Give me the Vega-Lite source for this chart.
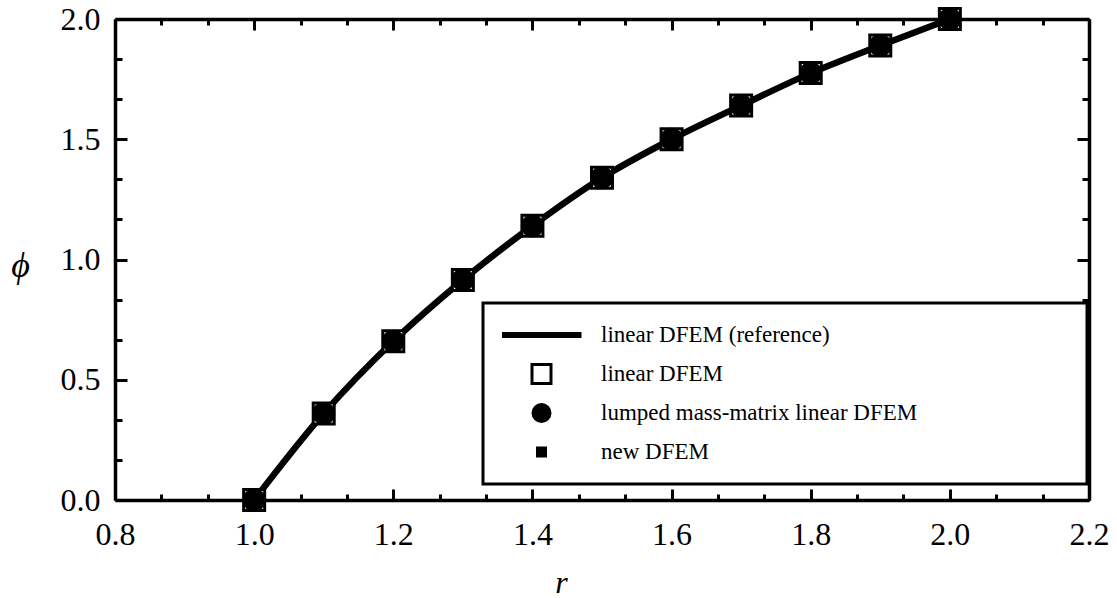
{
  "$schema": "https://vega.github.io/schema/vega-lite/v6.json",
  "width": 974,
  "height": 481,
  "autosize": {"type": "none"},
  "padding": {"left": 115, "top": 19, "right": 28, "bottom": 98},
  "background": "white",
  "config": {
    "view": {"stroke": null},
    "font": "Liberation Serif",
    "axis": {
      "grid": false,
      "domainColor": "black",
      "domainWidth": 3.5,
      "tickColor": "black",
      "tickWidth": 3,
      "labelFont": "Liberation Serif",
      "labelFontSize": 32,
      "labelColor": "black",
      "labelOverlap": false,
      "labelFlush": false,
      "titleFont": "Liberation Serif",
      "titleFontSize": 32,
      "titleFontStyle": "italic",
      "titleFontWeight": "normal",
      "titleColor": "black"
    },
    "legend": {
      "orient": "none",
      "legendX": 368,
      "legendY": 284,
      "strokeColor": "black",
      "strokeWidth": 3,
      "fillColor": "white",
      "padding": 19,
      "rowPadding": 13,
      "clipHeight": 26,
      "labelFont": "Liberation Serif",
      "labelFontSize": 23,
      "labelColor": "black",
      "labelOffset": 48,
      "symbolOffset": 28,
      "labelLimit": 600,
      "titleOrient": "right",
      "titlePadding": 151,
      "symbolStrokeColor": "black"
    }
  },
  "data": {
    "values": [
      {"r": 1.0, "phi": 0.0, "series": "linear DFEM (reference)"},
      {"r": 1.1, "phi": 0.36, "series": "linear DFEM (reference)"},
      {"r": 1.2, "phi": 0.66, "series": "linear DFEM (reference)"},
      {"r": 1.3, "phi": 0.915, "series": "linear DFEM (reference)"},
      {"r": 1.4, "phi": 1.14, "series": "linear DFEM (reference)"},
      {"r": 1.5, "phi": 1.34, "series": "linear DFEM (reference)"},
      {"r": 1.6, "phi": 1.5, "series": "linear DFEM (reference)"},
      {"r": 1.7, "phi": 1.64, "series": "linear DFEM (reference)"},
      {"r": 1.8, "phi": 1.775, "series": "linear DFEM (reference)"},
      {"r": 1.9, "phi": 1.89, "series": "linear DFEM (reference)"},
      {"r": 2.0, "phi": 2.0, "series": "linear DFEM (reference)"},
      {"r": 1.0, "phi": 0.0, "series": "linear DFEM"},
      {"r": 1.1, "phi": 0.36, "series": "linear DFEM"},
      {"r": 1.2, "phi": 0.66, "series": "linear DFEM"},
      {"r": 1.3, "phi": 0.915, "series": "linear DFEM"},
      {"r": 1.4, "phi": 1.14, "series": "linear DFEM"},
      {"r": 1.5, "phi": 1.34, "series": "linear DFEM"},
      {"r": 1.6, "phi": 1.5, "series": "linear DFEM"},
      {"r": 1.7, "phi": 1.64, "series": "linear DFEM"},
      {"r": 1.8, "phi": 1.775, "series": "linear DFEM"},
      {"r": 1.9, "phi": 1.89, "series": "linear DFEM"},
      {"r": 2.0, "phi": 2.0, "series": "linear DFEM"},
      {"r": 1.0, "phi": 0.0, "series": "lumped mass-matrix linear DFEM"},
      {"r": 1.1, "phi": 0.36, "series": "lumped mass-matrix linear DFEM"},
      {"r": 1.2, "phi": 0.66, "series": "lumped mass-matrix linear DFEM"},
      {"r": 1.3, "phi": 0.915, "series": "lumped mass-matrix linear DFEM"},
      {"r": 1.4, "phi": 1.14, "series": "lumped mass-matrix linear DFEM"},
      {"r": 1.5, "phi": 1.34, "series": "lumped mass-matrix linear DFEM"},
      {"r": 1.6, "phi": 1.5, "series": "lumped mass-matrix linear DFEM"},
      {"r": 1.7, "phi": 1.64, "series": "lumped mass-matrix linear DFEM"},
      {"r": 1.8, "phi": 1.775, "series": "lumped mass-matrix linear DFEM"},
      {"r": 1.9, "phi": 1.89, "series": "lumped mass-matrix linear DFEM"},
      {"r": 2.0, "phi": 2.0, "series": "lumped mass-matrix linear DFEM"},
      {"r": 1.0, "phi": 0.0, "series": "new DFEM"},
      {"r": 1.1, "phi": 0.36, "series": "new DFEM"},
      {"r": 1.2, "phi": 0.66, "series": "new DFEM"},
      {"r": 1.3, "phi": 0.915, "series": "new DFEM"},
      {"r": 1.4, "phi": 1.14, "series": "new DFEM"},
      {"r": 1.5, "phi": 1.34, "series": "new DFEM"},
      {"r": 1.6, "phi": 1.5, "series": "new DFEM"},
      {"r": 1.7, "phi": 1.64, "series": "new DFEM"},
      {"r": 1.8, "phi": 1.775, "series": "new DFEM"},
      {"r": 1.9, "phi": 1.89, "series": "new DFEM"},
      {"r": 2.0, "phi": 2.0, "series": "new DFEM"}
    ]
  },
  "resolve": {"axis": {"x": "independent", "y": "independent"}},
  "layer": [
    {
      "transform": [{"filter": "datum.series === 'linear DFEM (reference)'"}],
      "mark": {"type": "line", "strokeWidth": 6.5, "interpolate": "monotone", "strokeCap": "round", "strokeJoin": "round"},
      "encoding": {
        "x": {
          "field": "r", "type": "quantitative",
          "scale": {"domain": [0.8, 2.2], "nice": false, "zero": false},
          "axis": {
            "orient": "bottom",
            "values": [0.8, 0.866667, 0.933333, 1.0, 1.066667, 1.133333, 1.2, 1.266667, 1.333333, 1.4, 1.466667, 1.533333, 1.6, 1.666667, 1.733333, 1.8, 1.866667, 1.933333, 2.0, 2.066667, 2.133333, 2.2],
            "labelExpr": "abs(datum.value*5 - round(datum.value*5)) < 0.001 ? format(datum.value, '.1f') : ''",
            "tickSize": {"condition": {"test": "abs(datum.value*5 - round(datum.value*5)) < 0.001", "value": -11}, "value": -6},
            "labelPadding": 30,
            "title": "r",
            "titleX": 446,
            "titleY": 92,
            "titleAlign": "center",
            "titleBaseline": "alphabetic"
          }
        },
        "y": {
          "field": "phi", "type": "quantitative",
          "scale": {"domain": [0, 2], "nice": false, "zero": false},
          "axis": {
            "orient": "left",
            "values": [0, 0.166667, 0.333333, 0.5, 0.666667, 0.833333, 1.0, 1.166667, 1.333333, 1.5, 1.666667, 1.833333, 2.0],
            "labelExpr": "abs(datum.value*2 - round(datum.value*2)) < 0.001 ? format(datum.value, '.1f') : ''",
            "tickSize": {"condition": {"test": "abs(datum.value*2 - round(datum.value*2)) < 0.001", "value": -12}, "value": -7},
            "labelPadding": 27,
            "title": "ϕ",
            "titleFontSize": 36,
            "titleAngle": 0,
            "titleX": -95,
            "titleY": 246,
            "titleAlign": "center",
            "titleBaseline": "middle"
          }
        },
        "color": {
          "field": "series", "type": "nominal",
          "scale": {
            "domain": ["linear DFEM (reference)", "linear DFEM", "lumped mass-matrix linear DFEM", "new DFEM"],
            "range": ["black", "black", "black", "black"]
          },
          "legend": {
            "title": " ",
            "encode": {
              "symbols": {
                "update": {
                  "shape": {"signal": "datum.value === 'linear DFEM (reference)' ? 'stroke' : datum.value === 'lumped mass-matrix linear DFEM' ? 'circle' : 'square'"},
                  "size": {"signal": "datum.value === 'linear DFEM (reference)' ? 6400 : datum.value === 'linear DFEM' ? 361 : datum.value === 'lumped mass-matrix linear DFEM' ? 400 : 121"},
                  "fill": {"signal": "datum.value === 'linear DFEM' ? 'white' : 'black'"},
                  "stroke": {"value": "black"},
                  "strokeWidth": {"signal": "datum.value === 'linear DFEM (reference)' ? 6 : datum.value === 'linear DFEM' ? 3 : 0"},
                  "opacity": {"value": 1}
                }
              }
            }
          }
        }
      }
    },
    {
      "transform": [{"filter": "datum.series === 'linear DFEM'"}],
      "mark": {"type": "point", "shape": "square", "size": 441, "filled": false, "stroke": "black", "strokeWidth": 3, "fill": "white", "fillOpacity": 1, "opacity": 1},
      "encoding": {
        "x": {
          "field": "r", "type": "quantitative",
          "axis": {
            "orient": "top",
            "values": [0.8, 0.866667, 0.933333, 1.0, 1.066667, 1.133333, 1.2, 1.266667, 1.333333, 1.4, 1.466667, 1.533333, 1.6, 1.666667, 1.733333, 1.8, 1.866667, 1.933333, 2.0, 2.066667, 2.133333, 2.2],
            "labels": false,
            "tickSize": {"condition": {"test": "abs(datum.value*5 - round(datum.value*5)) < 0.001", "value": -11}, "value": -6},
            "title": null
          }
        },
        "y": {
          "field": "phi", "type": "quantitative",
          "axis": {
            "orient": "right",
            "values": [0, 0.166667, 0.333333, 0.5, 0.666667, 0.833333, 1.0, 1.166667, 1.333333, 1.5, 1.666667, 1.833333, 2.0],
            "labels": false,
            "tickSize": {"condition": {"test": "abs(datum.value*2 - round(datum.value*2)) < 0.001", "value": -12}, "value": -7},
            "title": null
          }
        }
      }
    },
    {
      "transform": [{"filter": "datum.series === 'lumped mass-matrix linear DFEM'"}],
      "mark": {"type": "point", "shape": "circle", "size": 529, "filled": true, "fill": "black", "stroke": null, "opacity": 1},
      "encoding": {
        "x": {"field": "r", "type": "quantitative", "axis": null},
        "y": {"field": "phi", "type": "quantitative", "axis": null}
      }
    },
    {
      "transform": [{"filter": "datum.series === 'new DFEM'"}],
      "mark": {"type": "point", "shape": "square", "size": 169, "filled": true, "fill": "black", "stroke": null, "opacity": 1},
      "encoding": {
        "x": {"field": "r", "type": "quantitative", "axis": null},
        "y": {"field": "phi", "type": "quantitative", "axis": null}
      }
    }
  ]
}
